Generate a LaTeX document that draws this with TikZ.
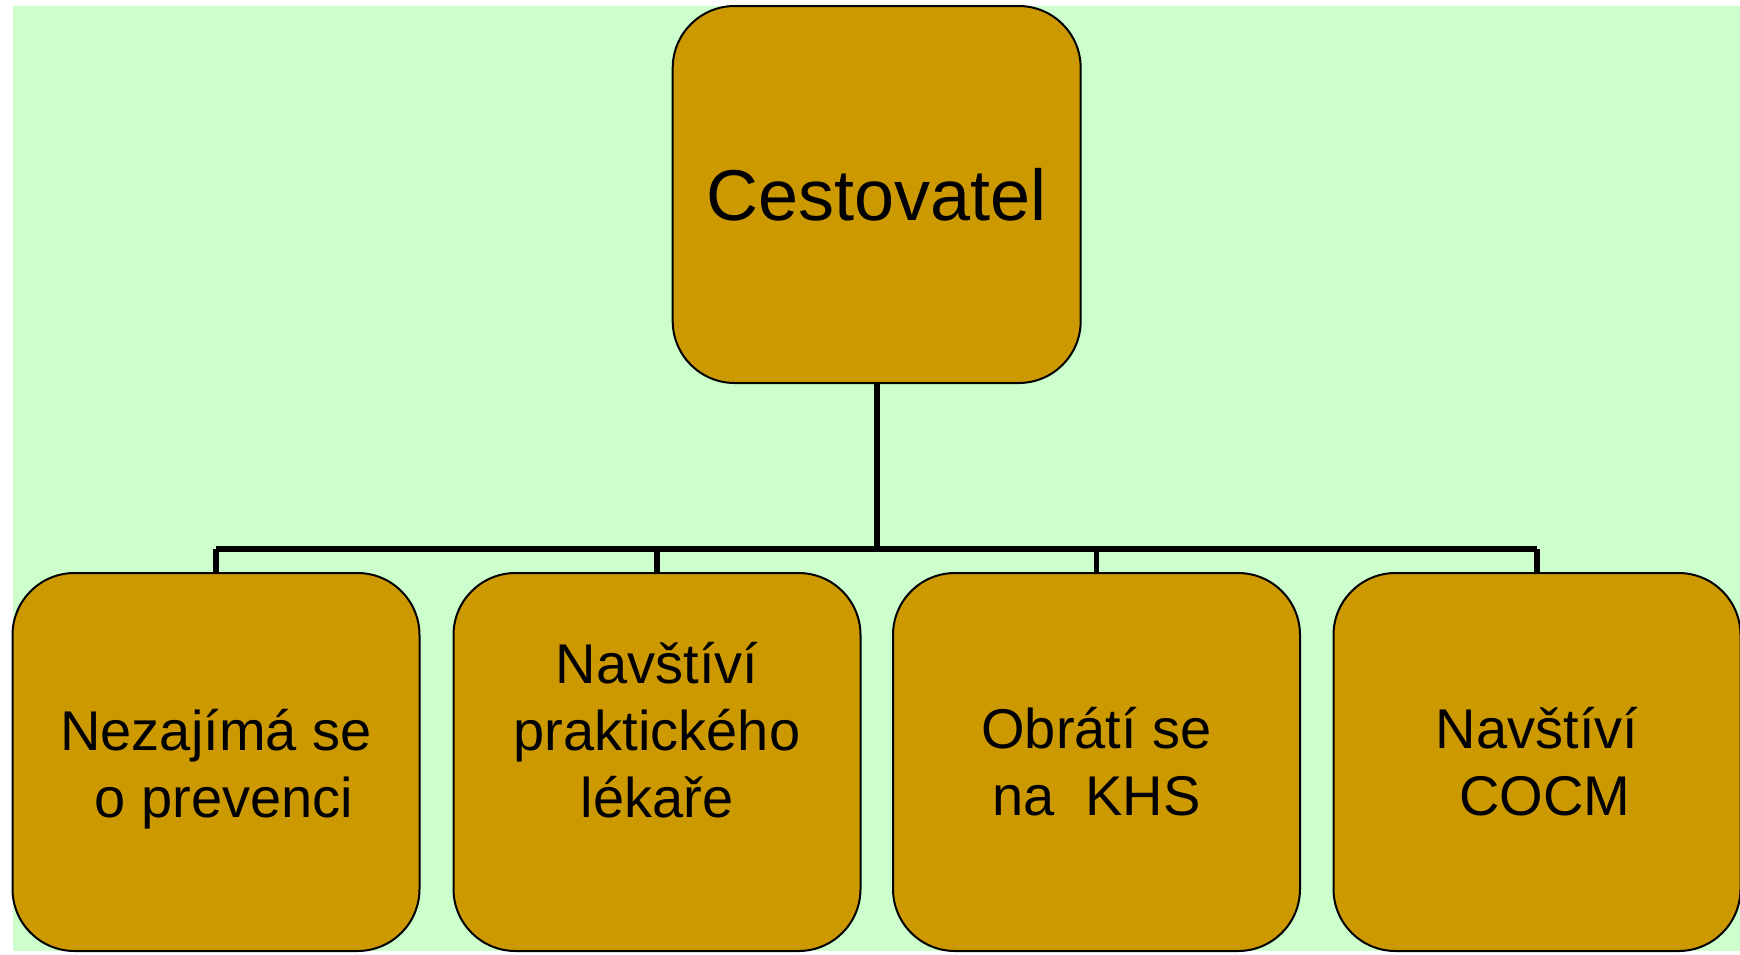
\documentclass[tikz,border=0pt]{standalone}
\usepackage{fontspec}
\setmainfont{Liberation Sans}

\definecolor{paleGreen}{HTML}{CCFFCC}
\definecolor{ochre}{HTML}{CC9900}

\tikzset{
	box/.style={draw=black, line width=1pt, fill=ochre, rounded corners=31pt, inner sep=0pt},
	boss/.style={box, minimum width=204pt, minimum height=188.5pt, font=\fontsize{36}{43}\selectfont},
	kid/.style={box, minimum width=203.5pt, minimum height=189pt},
	kidtext/.style={align=center, inner sep=0pt, font=\fontsize{28}{33.5}\selectfont},
	wire/.style={line width=2.8pt},
}

\begin{document}
\begin{tikzpicture}[x=0.5pt, y=-0.5pt]

		\useasboundingbox (0,0) rectangle (1740,954);
		\fill[paleGreen] (13,6) rectangle (1740,951);

		\node[boss] (root) at (876.7,194.5) {Cestovatel};

		\foreach \name/\x/\dy/\txt in {k1/216/-3.5/{Nezajímá se\\\ o prevenci},
			k2/657/16/{Navštíví\\praktického\\lékaře},
			k3/1096.5/0/{Obrátí se\\na\ \ KHS},
			k4/1537/0/{Navštíví\\\ COCM}}
		{
		\node[kid] (\name) at (\x,762) {};
		\node[kidtext] (\name txt) at ([yshift=\dy pt]\name.center) {\txt};
		}

		\coordinate (busy) at (0,549);
		\draw[wire, line width=3pt] (root.south) -- (root.south |- busy);
		\draw[wire] (k1.north |- busy) -- (k4.north |- busy);
		\draw[wire, line width=3.2pt] (k2.north |- busy) -- (k3.north |- busy);
		\foreach \k in {k1,k2,k3,k4}
		\draw[wire] (\k.north) -- (\k.north |- busy);

		\end{tikzpicture}
\end{document}
